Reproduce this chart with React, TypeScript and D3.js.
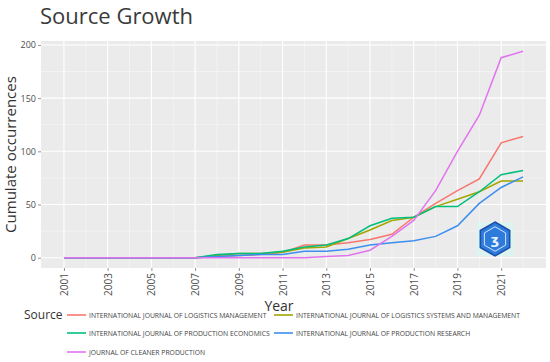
import { useEffect, useRef } from 'react';
import * as d3 from 'd3';

const years = d3.range(2001, 2023);
const sources = [
  'INTERNATIONAL JOURNAL OF LOGISTICS MANAGEMENT',
  'INTERNATIONAL JOURNAL OF LOGISTICS SYSTEMS AND MANAGEMENT',
  'INTERNATIONAL JOURNAL OF PRODUCTION ECONOMICS',
  'INTERNATIONAL JOURNAL OF PRODUCTION RESEARCH',
  'JOURNAL OF CLEANER PRODUCTION',
];
const logisticsMgmt = [0, 0, 0, 0, 0, 0, 0, 1, 2, 3, 5, 12, 12, 14, 17, 22, 38, 51, 63, 74, 108, 114];
const logisticsSys = [0, 0, 0, 0, 0, 0, 0, 2, 4, 4, 5, 9, 10, 18, 26, 35, 38, 48, 55, 62, 72, 72];
const prodEconomics = [0, 0, 0, 0, 0, 0, 0, 3, 4, 4, 6, 10, 12, 18, 30, 37, 38, 48, 48, 62, 78, 82];
const prodResearch = [0, 0, 0, 0, 0, 0, 0, 1, 2, 3, 3, 6, 6, 8, 12, 14, 16, 20, 30, 51, 66, 76];
const cleanerProd = [0, 0, 0, 0, 0, 0, 0, 0, 0, 0, 0, 0, 1, 2, 7, 20, 35, 63, 100, 134, 188, 194];
const seriesValues = [logisticsMgmt, logisticsSys, prodEconomics, prodResearch, cleanerProd];
const colors = ['#F8766D', '#A3A500', '#00BF7D', '#3D8FEF', '#E273F0'];
const yTicks = [0, 50, 100, 150, 200];
const xTicks = d3.range(2001, 2023, 2);

function SourceGrowth() {
  const svgRef = useRef<SVGSVGElement>(null);

  useEffect(() => {
    if (!svgRef.current) return;
    const svg = d3.select(svgRef.current);
    svg.selectAll('*').remove();

    const width = 550;
    const height = 362;
    const plot = { left: 41, right: 546, top: 41, bottom: 268 };
    const font = '"Open Sans", "DejaVu Sans", sans-serif';

    const xPad = (d3.max(years)! - d3.min(years)!) * 0.05;
    const x = d3.scaleLinear()
      .domain([d3.min(years)! - xPad, d3.max(years)! + xPad])
      .range([plot.left, plot.right]);
    const yMax = d3.max(seriesValues.flat())!;
    const y = d3.scaleLinear()
      .domain([-yMax * 0.05, yMax * 1.05])
      .range([plot.bottom, plot.top]);

    svg.attr('width', width).attr('height', height);

    // panel background
    svg.append('rect')
      .attr('x', plot.left)
      .attr('y', plot.top)
      .attr('width', plot.right - plot.left)
      .attr('height', plot.bottom - plot.top)
      .attr('fill', '#EBEBEB');

    // minor grid
    const minorY = d3.range(25, 200, 50);
    svg.append('g').selectAll('line').data(minorY).join('line')
      .attr('x1', plot.left).attr('x2', plot.right)
      .attr('y1', d => y(d)).attr('y2', d => y(d))
      .attr('stroke', '#fff').attr('stroke-width', 0.5).attr('opacity', 0.8);
    const minorX = d3.range(2002, 2023, 2);
    svg.append('g').selectAll('line').data(minorX).join('line')
      .attr('x1', d => x(d)).attr('x2', d => x(d))
      .attr('y1', plot.top).attr('y2', plot.bottom)
      .attr('stroke', '#fff').attr('stroke-width', 0.5).attr('opacity', 0.8);

    // major grid
    svg.append('g').selectAll('line').data(yTicks).join('line')
      .attr('x1', plot.left).attr('x2', plot.right)
      .attr('y1', d => y(d)).attr('y2', d => y(d))
      .attr('stroke', '#fff').attr('stroke-width', 1.1);
    svg.append('g').selectAll('line').data(xTicks).join('line')
      .attr('x1', d => x(d)).attr('x2', d => x(d))
      .attr('y1', plot.top).attr('y2', plot.bottom)
      .attr('stroke', '#fff').attr('stroke-width', 1.1);

    // watermark logo
    const cx = 495, cy = 239, r = 17;
    const hex = d3.range(6).map(i => {
      const a = Math.PI / 3 * i - Math.PI / 2;
      return [cx + r * Math.cos(a), cy + r * Math.sin(a)] as [number, number];
    });
    svg.append('rect')
      .attr('x', cx - 19).attr('y', cy - 17).attr('width', 38).attr('height', 34)
      .attr('fill', '#d9f7f2').attr('opacity', 0.7);
    svg.append('polygon')
      .attr('points', hex.map(p => p.join(',')).join(' '))
      .attr('fill', '#2F7BDB')
      .attr('stroke', '#1B4FA8')
      .attr('stroke-width', 1.5);
    svg.append('polygon')
      .attr('points', hex.map(p => [cx + (p[0] - cx) * 0.72, cy + (p[1] - cy) * 0.72].join(',')).join(' '))
      .attr('fill', 'none')
      .attr('stroke', '#cfe6ff')
      .attr('stroke-width', 1);
    svg.append('text')
      .attr('x', cx).attr('y', cy + 5)
      .attr('text-anchor', 'middle')
      .attr('font-family', font)
      .attr('font-size', 13)
      .attr('font-weight', 700)
      .attr('fill', '#e8f3ff')
      .text('ʒ');

    // lines
    const line = d3.line<number>()
      .x((_, i) => x(years[i]))
      .y(d => y(d));
    seriesValues.forEach((vals, i) => {
      svg.append('path')
        .datum(vals)
        .attr('d', line)
        .attr('fill', 'none')
        .attr('stroke', colors[i])
        .attr('stroke-width', 1.5);
    });

    // y axis
    const yAxis = svg.append('g')
      .attr('transform', `translate(${plot.left},0)`)
      .call(d3.axisLeft(y).tickValues(yTicks).tickSize(3).tickPadding(2));
    yAxis.select('.domain').remove();
    yAxis.selectAll('line').attr('stroke', '#4d4d4d').attr('stroke-width', 0.6);
    yAxis.selectAll('text')
      .attr('font-family', font)
      .attr('font-size', 9)
      .attr('fill', '#4d4d4d');

    // x axis
    const xAxis = svg.append('g')
      .attr('transform', `translate(0,${plot.bottom})`)
      .call(d3.axisBottom(x).tickValues(xTicks).tickFormat(d3.format('d')).tickSize(3));
    xAxis.select('.domain').remove();
    xAxis.selectAll('line').attr('stroke', '#4d4d4d').attr('stroke-width', 0.6);
    xAxis.selectAll('text')
      .attr('font-family', font)
      .attr('font-size', 10)
      .attr('fill', '#4d4d4d')
      .attr('text-anchor', 'end')
      .attr('dy', '0.35em')
      .attr('transform', 'translate(0,5) rotate(-90)')
      .attr('x', 0)
      .attr('y', 0);

    // title
    svg.append('text')
      .attr('x', 40).attr('y', 24)
      .attr('font-family', font)
      .attr('font-size', 22)
      .attr('fill', '#3a3a3a')
      .text('Source Growth');

    // axis titles
    svg.append('text')
      .attr('transform', `translate(16,${(plot.top + plot.bottom) / 2}) rotate(-90)`)
      .attr('text-anchor', 'middle')
      .attr('font-family', font)
      .attr('font-size', 15)
      .attr('fill', '#333')
      .text('Cumulate occurrences');

    // legend
    const rows = [315, 333, 352];
    const legendPos = [
      { lx: 67, ty: rows[0] }, { lx: 274, ty: rows[0] },
      { lx: 67, ty: rows[1] }, { lx: 274, ty: rows[1] },
      { lx: 67, ty: rows[2] },
    ];
    svg.append('text')
      .attr('x', 24).attr('y', 319)
      .attr('font-family', font)
      .attr('font-size', 12)
      .attr('fill', '#333')
      .text('Source');
    sources.forEach((s, i) => {
      const p = legendPos[i];
      svg.append('line')
        .attr('x1', p.lx).attr('x2', p.lx + 19)
        .attr('y1', p.ty).attr('y2', p.ty)
        .attr('stroke', colors[i])
        .attr('stroke-width', 1.6);
      svg.append('text')
        .attr('x', p.lx + 22).attr('y', p.ty + 2.5)
        .attr('font-family', font)
        .attr('font-size', 6.8)
        .attr('fill', '#444')
        .text(s);
    });

    svg.append('text')
      .attr('x', 279).attr('y', 311)
      .attr('text-anchor', 'middle')
      .attr('font-family', font)
      .attr('font-size', 14)
      .attr('fill', '#333')
      .text('Year');
  }, []);

  return <svg ref={svgRef} style={{ display: 'block', position: 'absolute', left: 0, top: 0 }}></svg>;
}

export default function App() {
  return <SourceGrowth />;
}
